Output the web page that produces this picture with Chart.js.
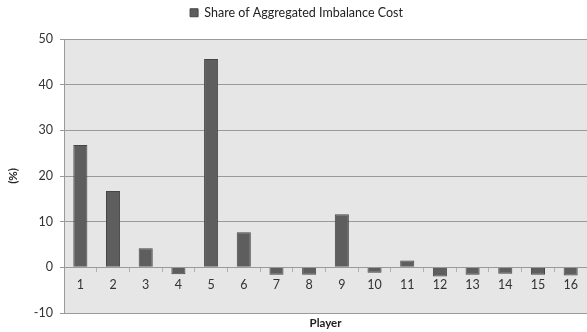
<!DOCTYPE html>
<html>
<head>
<meta charset="utf-8">
<script src="https://cdn.jsdelivr.net/npm/chart.js@4/dist/chart.umd.min.js"></script>
<style>
  html, body { margin: 0; padding: 0; background: #ffffff; }
  #wrap { width: 587px; height: 332px; position: relative; }
</style>
</head>
<body>
<div id="wrap"><canvas id="chart"></canvas></div>
<script>
// Share of aggregated imbalance cost per player (%)
const players = ['1','2','3','4','5','6','7','8','9','10','11','12','13','14','15','16'];
const shareOfCost = [26.8, 16.7, 4.2, -1.5, 45.6, 7.7, -1.6, -1.6, 11.6, -1.2, 1.5, -2.0, -1.6, -1.4, -1.6, -1.8];
const yTicks = [-10, 0, 10, 20, 30, 40, 50];

const FONT = 'Lato, "Liberation Sans", sans-serif';
const GRID = '#9a9a9a';

// fills the plotting area with a light grey panel
const plotPanel = {
  id: 'plotPanel',
  beforeDraw(chart) {
    const { ctx, chartArea: a } = chart;
    ctx.save();
    ctx.fillStyle = '#e6e6e6';
    ctx.fillRect(a.left, a.top, a.right - a.left, a.bottom - a.top);
    ctx.restore();
  }
};

// leaves extra room between the legend and the plot
const legendGap = {
  id: 'legendGap',
  beforeLayout(chart) {
    const lg = chart.legend;
    if (lg && !lg._gapPatched) {
      const fit = lg.fit;
      lg.fit = function () { fit.call(this); this.height += 10; };
      lg._gapPatched = true;
    }
  }
};

new Chart(document.getElementById('chart'), {
  type: 'bar',
  data: {
    labels: players,
    datasets: [{
      label: 'Share of Aggregated Imbalance Cost',
      data: shareOfCost,
      backgroundColor: '#5e5e5e',
      borderColor: '#464646',
      borderWidth: 1,
      barPercentage: 0.43,
      categoryPercentage: 1.0
    }]
  },
  options: {
    responsive: true,
    maintainAspectRatio: false,
    animation: false,
    devicePixelRatio: 1,
    layout: { padding: { top: 0, right: 0, left: 6, bottom: 0 } },
    plugins: {
      legend: {
        position: 'top',
        labels: {
          font: { family: FONT, size: 12.5 },
          color: '#222',
          boxWidth: 8,
          boxHeight: 8,
          padding: 6.5
        }
      },
      tooltip: { enabled: false }
    },
    scales: {
      x: {
        type: 'category',
        position: { y: 0 },
        offset: true,
        afterFit(scale) { scale.height = 0; },
        grid: {
          offset: true,
          drawOnChartArea: false,
          drawTicks: true,
          tickLength: 4,
          color: '#b0b0b0'
        },
        border: { display: true, color: GRID, width: 1 },
        ticks: {
          font: { family: FONT, size: 12.5 },
          color: '#333',
          padding: 6,
          maxRotation: 0
        }
      },
      x2: {
        type: 'category',
        labels: players,
        position: 'bottom',
        offset: true,
        afterFit(scale) { scale.height = 19; },
        grid: { display: false },
        border: { display: false },
        ticks: { display: false },
        title: {
          display: true,
          text: 'Player',
          font: { family: FONT, size: 11.5, weight: 'bold' },
          color: '#222',
          padding: { top: 0, bottom: 2 }
        }
      },
      y: {
        min: -10,
        max: 50,
        afterFit(scale) { scale.width = 58; },
        afterBuildTicks(scale) { scale.ticks = yTicks.map(v => ({ value: v })); },
        grid: {
          color: GRID,
          lineWidth: 1,
          drawTicks: true,
          tickLength: 4
        },
        border: { display: true, color: GRID, width: 1 },
        ticks: {
          font: { family: FONT, size: 12.5 },
          color: '#333',
          padding: 7
        },
        title: {
          display: true,
          text: '(%)',
          font: { family: FONT, size: 11.5, weight: 'bold' },
          color: '#222',
          padding: { top: 0, bottom: 0 }
        }
      }
    }
  },
  plugins: [plotPanel, legendGap]
});
</script>
</body>
</html>
